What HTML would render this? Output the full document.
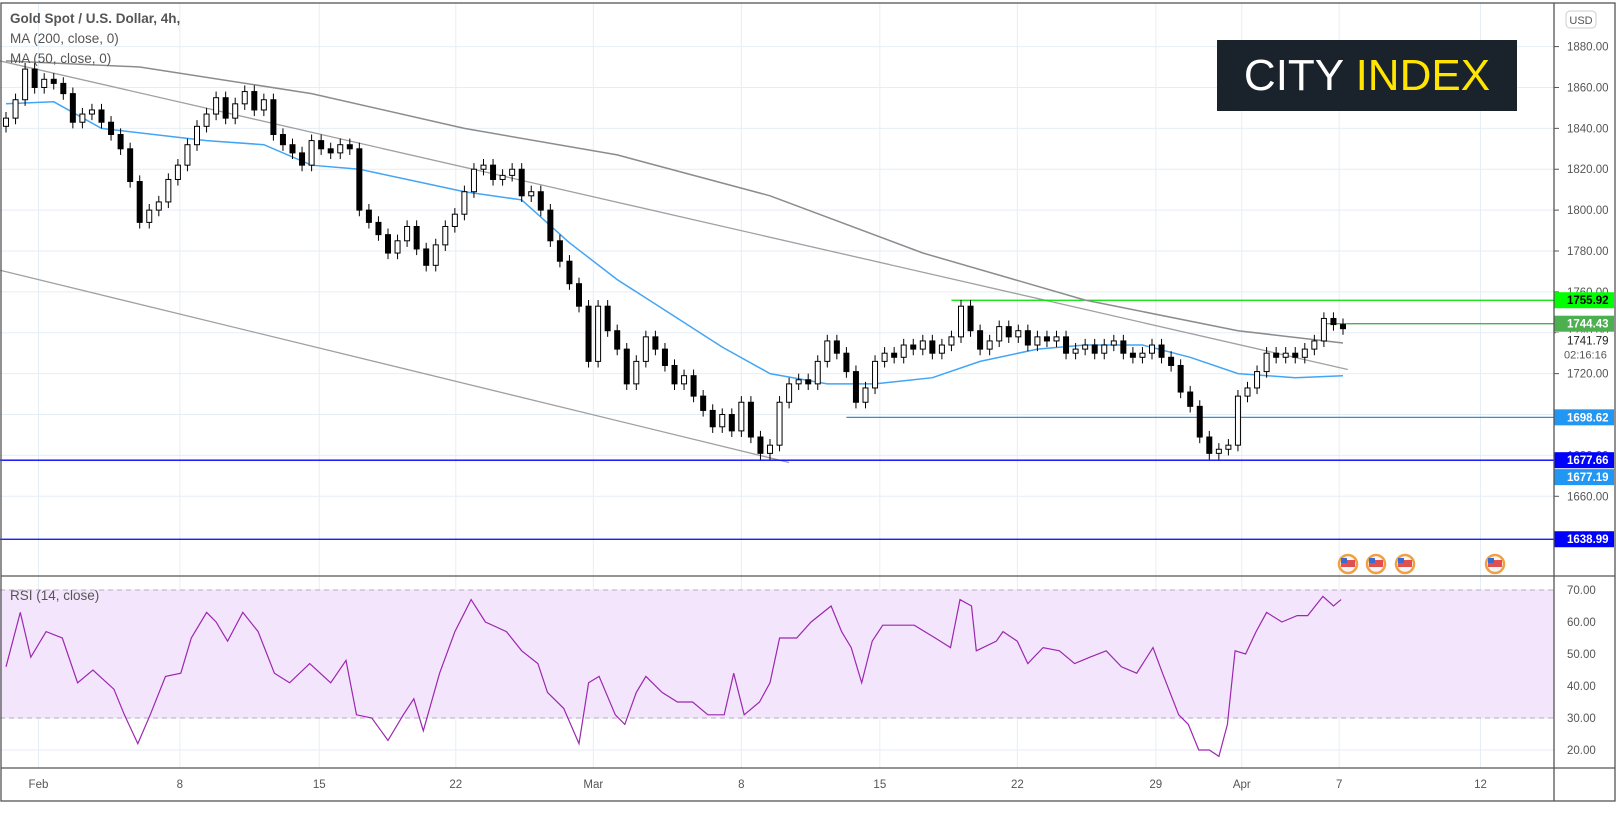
<!DOCTYPE html>
<html><head><meta charset="utf-8"><style>
html,body{margin:0;padding:0;background:#fff;}
svg{display:block;font-family:"Liberation Sans",sans-serif;}
</style></head><body>
<svg id="c" width="1622" height="814" viewBox="0 0 1622 814" xmlns="http://www.w3.org/2000/svg">
<rect x="0" y="0" width="1622" height="814" fill="#fff"/>
<g id="grid"></g>
<rect x="0" y="590" width="1554" height="128" fill="#f3e6fc"/>
<line x1="0" y1="590" x2="1554" y2="590" stroke="#b8a9c0" stroke-dasharray="5,4"/>
<line x1="0" y1="718" x2="1554" y2="718" stroke="#b8a9c0" stroke-dasharray="5,4"/>
<g id="marks"></g>
<g>
<rect x="1217" y="40" width="300" height="71" fill="#1a232c"/>
<text x="1367" y="90" text-anchor="middle" font-size="44" fill="#fff">CITY <tspan fill="#ffe500">INDEX</tspan></text>
</g>
<g font-size="13.5" fill="#555">
<text x="10" y="23" font-weight="bold">Gold Spot / U.S. Dollar, 4h,</text>
<text x="10" y="43">MA (200, close, 0)</text>
<text x="10" y="63">MA (50, close, 0)</text>
<text x="10" y="600">RSI (14, close)</text>
</g>
<g id="axes"></g>
<rect x="1" y="3" width="1614" height="798" fill="none" stroke="#555" stroke-width="1.3"/>
<line x1="1554" y1="3" x2="1554" y2="801" stroke="#555" stroke-width="1.3"/>
<line x1="1" y1="576" x2="1615" y2="576" stroke="#555" stroke-width="1.3"/>
<line x1="1" y1="768" x2="1615" y2="768" stroke="#555" stroke-width="1.3"/>
<rect x="1566" y="11" width="30" height="17" rx="4" fill="#fff" stroke="#ccc"/>
<text x="1581" y="24" text-anchor="middle" font-size="11" fill="#555">USD</text>
</svg>
<script>
const closes=[1845,1854,1869,1860,1864,1862,1857,1843,1847,1849,1843,1837,1830,1814,1794,1800,1804,1815,1822,1832,1841,1847,1855,1845,1852,1858,1849,1854,1837,1832,1828,1822,1834,1830,1828,1832,1830,1800,1794,1788,1779,1785,1792,1781,1773,1783,1792,1798,1809,1820,1822,1815,1817,1820,1807,1809,1800,1785,1775,1764,1753,1726,1753,1741,1732,1715,1726,1738,1732,1724,1715,1719,1709,1702,1694,1700,1692,1706,1689,1681,1685,1706,1715,1717,1715,1726,1736,1730,1721,1706,1713,1726,1730,1728,1734,1732,1736,1730,1734,1738,1753,1741,1732,1736,1743,1738,1741,1734,1738,1736,1738,1730,1732,1734,1730,1734,1736,1730,1728,1730,1734,1728,1724,1711,1704,1689,1681,1683,1685,1709,1713,1721,1730,1728,1730,1728,1732,1736,1747,1744,1742];
const ma200Bars=[0,14,32,48,64,80,96,113,129,140];
const ma200Vals=[1873,1870,1857,1840,1827,1807,1779,1756,1741,1735];
const ma50Bars=[0,5,10,21,27,32,37,43,48,54,59,64,70,75,80,86,91,97,102,108,113,119,124,129,135,140];
const ma50Vals=[1852,1853,1840,1834,1832,1822,1820,1814,1809,1805,1784,1766,1748,1733,1720,1715,1715,1718,1726,1732,1734,1734,1728,1720,1718,1719];
const rsiBars=[0,1.5,2.6,4.2,5.9,7.5,9.1,11.3,12.4,13.8,15.1,16.7,18.3,19.4,21,22,23.2,24.8,26.4,28.1,29.7,31.8,34,35.6,36.7,38.3,40,41.6,42.7,43.7,45.4,47,48.7,50.2,52.4,54,55.7,56.7,58.4,60,61,62.1,63.8,64.8,66,67,68.7,70.3,71.9,73.5,75.2,76.2,77.3,78.9,80,81,82.8,84.3,86.4,87.5,88.5,89.6,90.7,91.8,93.5,95.1,97.3,98.9,99.9,101.1,101.6,103.7,104.4,105.9,107,108.6,110.3,111.9,113.5,115.2,116.8,118.4,120.1,121.1,122.8,123.8,124.9,126,127,127.9,128.7,129.8,130.9,132,133.6,135.2,136.3,137.9,139,139.8];
const rsiVals=[46,63,49,57,55,41,45,39,31,22,31,43,44,55,63,60,54,63,57,44,41,47,41,48,31,30,23,31,36,26,44,57,67,60,57,51,47,38,33,22,41,43,31,28,38,43,38,35,35,31,31,44,31,35,41,55,55,60,65,57,52,41,54,59,59,59,55,52,67,65,51,54,57,54,47,52,51,47,49,51,46,44,52,44,31,28,20,20,18,28,51,50,57,63,60,62,62,68,65,67];
const priceTicks=[1880,1860,1840,1820,1800,1780,1760,1740,1720,1700,1680,1660];
const rsiTicks=[70,60,50,40,30,20];
const dateLabels=["Feb","8","15","22","Mar","8","15","22","29","Apr","7","12"];
const dateBars=[3.4,18.2,32.8,47.1,61.5,77,91.5,105.9,120.4,129.4,139.6,154.4];
const hLines=[{p:1755.92,from:99,col:"#00e000",bg:"#00ff00",tc:"#000"},{p:1744.43,from:138,col:"#4caf50",bg:"#4caf50",tc:"#fff"},{p:1698.62,from:88,col:"#2f8fd8",bg:"#2196f3",tc:"#fff"},{p:1677.66,from:-1,col:"#0000ff",bg:"#0000ff",tc:"#fff"},{p:1638.99,from:-1,col:"#0000ff",bg:"#0000ff",tc:"#fff"}];
const NS="http://www.w3.org/2000/svg";
const X=i=>6+i*9.55;
const Y=p=>46.6+(1880-p)*2.044;
const RY=v=>590+(70-v)*3.2;
function mk(tag,attrs,parent){const e=document.createElementNS(NS,tag);for(const k in attrs)e.setAttribute(k,attrs[k]);parent.appendChild(e);return e;}
const grid=document.getElementById('grid'),marks=document.getElementById('marks'),axes=document.getElementById('axes');
priceTicks.forEach(p=>{const l=mk('line',{x1:0,x2:1554,y1:Y(p),y2:Y(p),stroke:'#e6eef5'},grid);


const t=mk('text',{x:1567,y:Y(p)+4,'font-size':11.5,fill:'#555'},axes);t.textContent=p.toFixed(2);


mk('line',{x1:1554,x2:1559,y1:Y(p),y2:Y(p),stroke:'#555'},axes);});
rsiTicks.forEach(v=>{const l=mk('line',{x1:0,x2:1554,y1:RY(v),y2:RY(v),stroke:'#e6eef5'},grid);


const t=mk('text',{x:1567,y:RY(v)+4,'font-size':11.5,fill:'#555'},axes);t.textContent=v.toFixed(2);

});
dateLabels.forEach((d,k)=>{const x=X(dateBars[k]);const l=mk('line',{x1:x,x2:x,y1:3,y2:768,stroke:'#e6eef5'},grid);


const t=mk('text',{x:x,y:788,'font-size':11.5,fill:'#555','text-anchor':'middle'},axes);t.textContent=d;

});
const tl1=mk('line',{x1:0,y1:Y(1873),x2:X(140.5),y2:Y(1722),stroke:'#a0a0a0','stroke-width':1.3},marks);


const tl2=mk('line',{x1:0,y1:Y(1770.6),x2:X(82),y2:Y(1676.5),stroke:'#a0a0a0','stroke-width':1.3},marks);


hLines.forEach(h=>{const x1=h.from<0?0:X(h.from);const l=mk('line',{x1:x1,x2:1554,y1:Y(h.p),y2:Y(h.p),stroke:h.col,'stroke-width':1.3},marks);


const r=mk('rect',{x:1554,y:Y(h.p)-8,width:60,height:16,fill:h.bg},axes);


const t=mk('text',{x:1567,y:Y(h.p)+4,'font-size':11.5,'font-weight':'bold',fill:h.tc},axes);t.textContent=h.p.toFixed(2);});
(function(){const r=mk('rect',{x:1554,y:Y(1677.19)+8,width:60,height:16,fill:'#2196f3'},axes);


const t=mk('text',{x:1567,y:Y(1677.19)+20,'font-size':11.5,'font-weight':'bold',fill:'#fff'},axes);t.textContent='1677.19';
const bg=mk('rect',{x:1556,y:Y(1744.43)+9,width:58,height:30,fill:'#fff'},axes);
const t2=mk('text',{x:1567,y:Y(1744.43)+21,'font-size':11.5,fill:'#222'},axes);t2.textContent='1741.79';
const t3=mk('text',{x:1564,y:Y(1744.43)+35,'font-size':11,fill:'#555'},axes);t3.textContent='02:16:16';})();
function path(bars,vals,yf){return bars.map((b,k)=>(k?'L':'M')+X(b).toFixed(1)+','+yf(vals[k]).toFixed(1)).join(' ');}
const m2=mk('path',{d:path(ma200Bars,ma200Vals,Y),fill:'none',stroke:'#8c8c8c','stroke-width':1.5},marks);


const m5=mk('path',{d:path(ma50Bars,ma50Vals,Y),fill:'none',stroke:'#42a5f5','stroke-width':1.5},marks);


closes.forEach((c,i)=>{const o=i?closes[i-1]:c-4;const hi=Math.max(o,c)+3,lo=Math.min(o,c)-3;const x=X(i);
const w=mk('line',{x1:x,x2:x,y1:Y(hi),y2:Y(lo),stroke:'#000','stroke-width':1},marks);


const top=Y(Math.max(o,c)),h=Math.max(1,Math.abs(Y(o)-Y(c)));
const b=mk('rect',{x:x-2.5,y:top,width:5,height:h,fill:c>=o?'#fff':'#000',stroke:'#000','stroke-width':1},marks);

});
const rl=mk('path',{d:path(rsiBars,rsiVals,RY),fill:'none',stroke:'#9c27b0','stroke-width':1.2},marks);


[1348,1376,1405,1495].forEach(x=>{const c=mk('circle',{cx:x,cy:564,r:9,fill:'#f5f5f5',stroke:'#f0a040','stroke-width':2.5},marks);


mk('rect',{x:x-7,y:560,width:14,height:7,fill:'#e05050'},marks);mk('rect',{x:x-7,y:558,width:6,height:5,fill:'#3b6bd0'},marks);});
</script>
</body></html>
